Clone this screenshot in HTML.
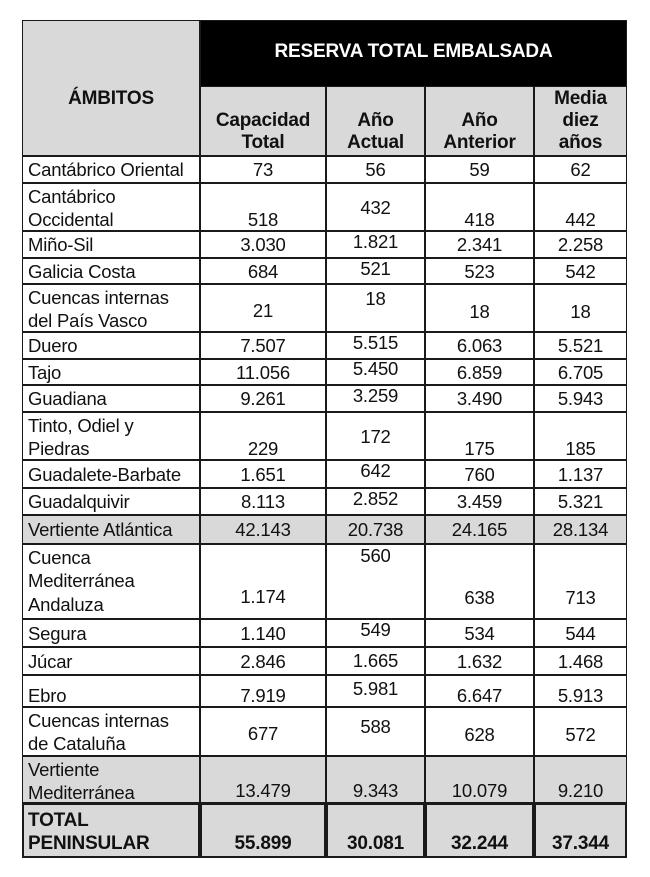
<!DOCTYPE html>
<html><head><meta charset="utf-8">
<style>
body{margin:0;background:#fff;width:650px;height:877px;position:relative;overflow:hidden;font-family:"Liberation Sans",Arial,sans-serif;color:#111}
.c{position:absolute;box-sizing:border-box;border:1.5px solid #1a1a1a}
.t{position:absolute;font-size:18.5px;line-height:23px;white-space:nowrap;letter-spacing:-0.2px}
.h{font-weight:bold;font-size:19px}
</style></head><body>
<div id="root"></div>
<script>
const colX=[22,200,326,425,534,627];
const names=[["Cantábrico Oriental"],["Cantábrico","Occidental"],["Miño-Sil"],["Galicia Costa"],["Cuencas internas","del País Vasco"],["Duero"],["Tajo"],["Guadiana"],["Tinto, Odiel y","Piedras"],["Guadalete-Barbate"],["Guadalquivir"],["Vertiente Atlántica"],["Cuenca","Mediterránea","Andaluza"],["Segura"],["Júcar"],["Ebro"],["Cuencas internas","de Cataluña"],["Vertiente","Mediterránea"],["TOTAL","PENINSULAR"]];
const capacidad=["73","518","3.030","684","21","7.507","11.056","9.261","229","1.651","8.113","42.143","1.174","1.140","2.846","7.919","677","13.479","55.899"];
const actual=["56","432","1.821","521","18","5.515","5.450","3.259","172","642","2.852","20.738","560","549","1.665","5.981","588","9.343","30.081"];
const anterior=["59","418","2.341","523","18","6.063","6.859","3.490","175","760","3.459","24.165","638","534","1.632","6.647","628","10.079","32.244"];
const media=["62","442","2.258","542","18","5.521","6.705","5.943","185","1.137","5.321","28.134","713","544","1.468","5.913","572","9.210","37.344"];
const rowTop=[156,183,231,258,284,332,359,385,412,460,488,515,544,619,647,675,707,756,803,858];
const nameY=[169,196,244,271,297,345,372,398,425,474,501,529,557,633,661,695,720,769,820];
const valY=[[169,169,169,169],[219,207,219,219],[244,241,244,244],[271,268,271,271],[310,298,311,311],[345,342,345,345],[372,368,372,372],[398,395,398,398],[448,436,448,448],[474,470,474,474],[501,498,501,501],[529,529,529,529],[596,555,597,597],[633,629,633,633],[661,660,661,661],[695,688,695,695],[733,726,734,734],[790,790,790,790],[843,843,843,843]];
const grayRows=[11,17,18];
const root=document.getElementById('root');
function box(x,y,w,h,bg,bw){const d=document.createElement('div');d.className='c';d.style.left=x+'px';d.style.top=y+'px';d.style.width=w+'px';d.style.height=h+'px';d.style.background=bg;if(bw)d.style.borderWidth=bw+'px';root.appendChild(d);return d;}
function txt(s,x,y,bold,center,w){const d=document.createElement('div');d.className='t'+(bold?' h':'');d.textContent=s;d.style.top=(y-11.5)+'px';if(center){d.style.left=x+'px';d.style.width=w+'px';d.style.textAlign='center';}else d.style.left=x+'px';root.appendChild(d);return d;}
let b=box(22,20,178,136,'#d9d9d9');


let t=txt('ÁMBITOS',22,98,true,true,178);


b=box(200,20,427,67,'#000');


t=txt('RESERVA TOTAL EMBALSADA',200,51,true,true,427);
t.style.color='#fff';


const sub=[["Capacidad","Total"],["Año","Actual"],["Año","Anterior"],["Media","diez","años"]];
sub.forEach((lines,i)=>{
  const bx=box(colX[i+1],86,colX[i+2]-colX[i+1],70,'#d9d9d9');
  
  
  const start=142-(lines.length-1)*22;
  lines.forEach((l,k)=>{const e=txt(l,colX[i+1],start+k*22,true,true,colX[i+2]-colX[i+1]);
    
    });
});
const cols=[capacidad,actual,anterior,media];
names.forEach((nm,r)=>{
  const gray=grayRows.includes(r)?'#d9d9d9':'#fff';
  const bw=r===18?2.5:0;
  const h=rowTop[r+1]-rowTop[r];
  const nb=box(colX[0],rowTop[r],colX[1]-colX[0],h,gray,bw);
  
  
  nm.forEach((l,k)=>{const e=txt(l,28,nameY[r]+k*23.5,r===18,false);
    
    });
  cols.forEach((arr,c)=>{
    const cb=box(colX[c+1],rowTop[r],colX[c+2]-colX[c+1],h,gray,bw);
    
    
    const e=txt(arr[r],colX[c+1],valY[r][c],r===18,true,colX[c+2]-colX[c+1]);
    
    
  });
});
</script>
</body></html>
